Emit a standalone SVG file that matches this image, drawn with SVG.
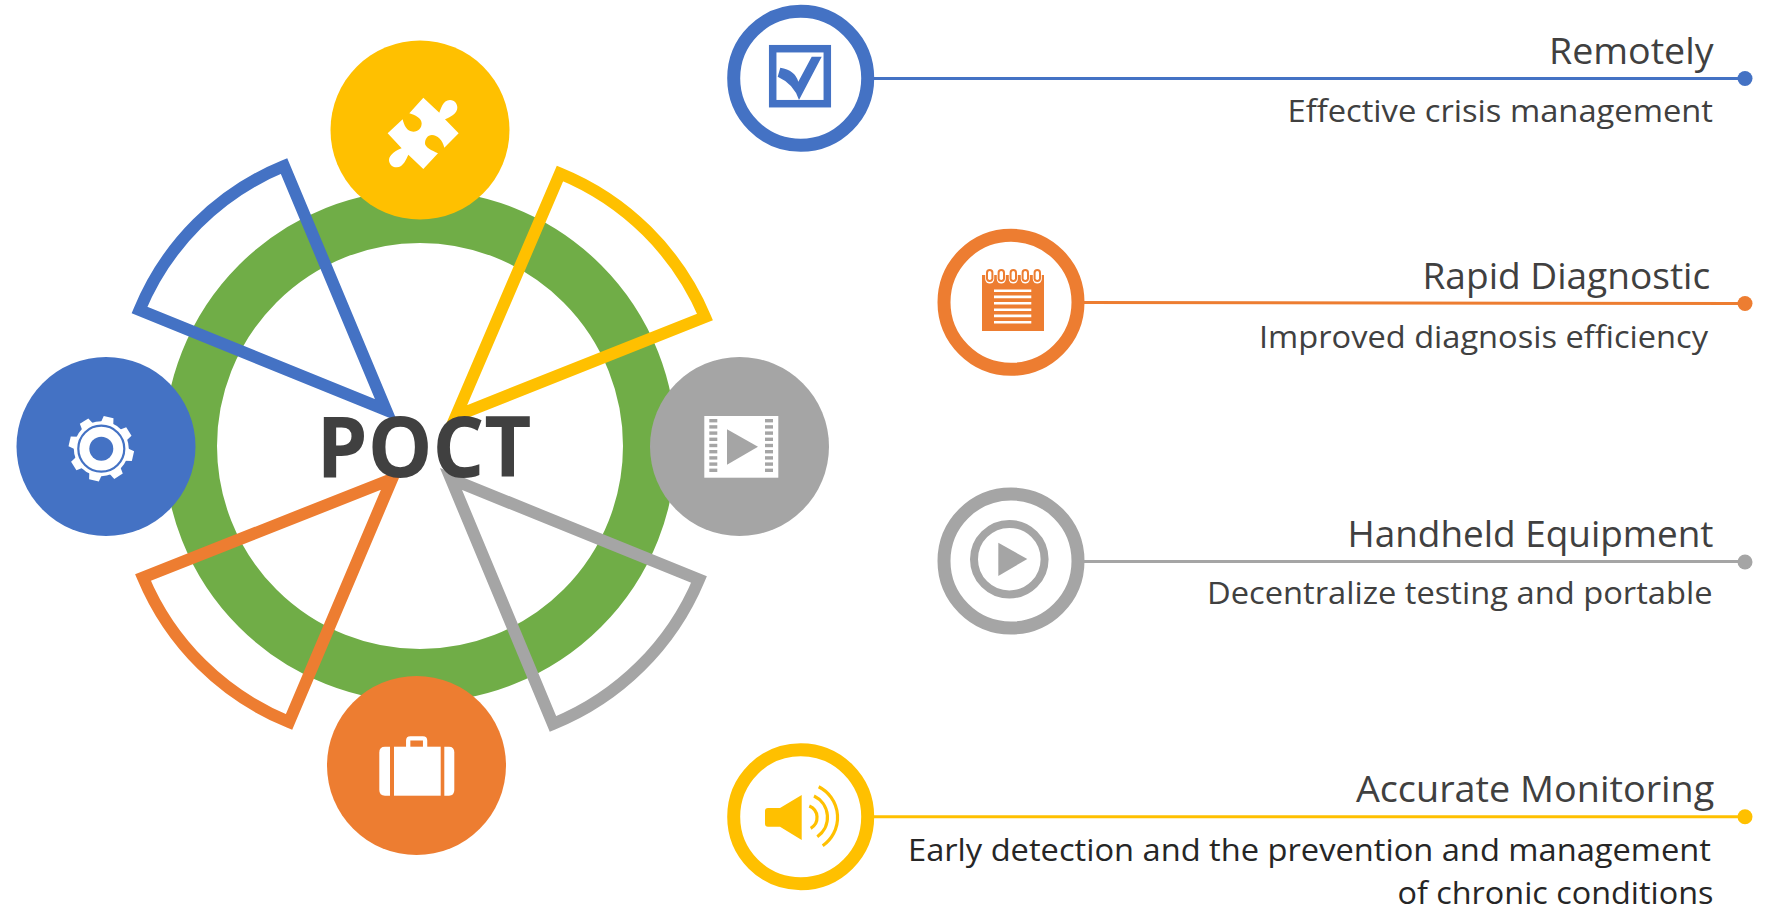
<svg xmlns="http://www.w3.org/2000/svg" xmlns:xlink="http://www.w3.org/1999/xlink" width="1765" height="907" viewBox="0 0 1765 907">
<style>
.t{font-family:"Open Sans","Noto Sans","Liberation Sans",sans-serif;fill:#404040;text-anchor:start}
.h{font-size:36px}
.s{font-size:31px}
.d{fill:#262626}
.wedge{fill:none;stroke-width:12;stroke-miterlimit:10}
.ringi{fill:#fff;stroke-width:13}
.b{fill:#4472c4}.o{fill:#ed7d31}.g{fill:#a5a5a5}.y{fill:#ffc000}
.sb{stroke:#4472c4}.so{stroke:#ed7d31}.sg{stroke:#a5a5a5}.sy{stroke:#ffc000}
.w{fill:#fff}
.ln{stroke-width:3;fill:none}
</style>
<defs>
<polygon id="tooth" points="-6.5,-25 -5,-32.5 5,-32.5 6.5,-25" fill="#fff"/>
<rect id="perf" width="8" height="3.4" fill="#a5a5a5"/>
</defs>
<rect width="1765" height="907" fill="#fff"/>
<g id="ring"><circle cx="420" cy="446" r="229.5" fill="none" stroke="#70ad47" stroke-width="53"/></g>
<g id="sector-blue"><path class="wedge sb" d="M386,410 L284,166 A265,265 0 0 0 139.5,310 Z"/></g>
<g id="sector-gold"><path class="wedge sy" d="M456,416 L705,317 A267,267 0 0 0 560,173.5 Z"/></g>
<g id="sector-grey"><path class="wedge sg" d="M451,479 L553,724 A267,267 0 0 0 699,579.5 Z"/></g>
<g id="sector-orange"><path class="wedge so" d="M392,479 L143,577.5 A267,267 0 0 0 289,722 Z"/></g>

<g id="node-puzzle"><circle class="y" cx="420" cy="130" r="89.5"/>
<path class="w" transform="translate(350 60) scale(.3333)" d="M220,113 L268,158 C272,150 278,120 300,120 C315,120 322,132 322,143 C322,160 300,172 285,178 L326,220 L283,263 C278,240 262,225 246,225 C232,225 225,238 225,250 C225,262 245,272 264,280 L220,327 L175,284 C170,295 160,322 140,322 C125,322 117,310 117,300 C117,285 140,270 155,265 L113,220 L158,178 C162,195 170,215 190,215 C205,215 215,205 215,190 C215,175 195,165 178,160 Z"/></g>
<g id="node-gear"><circle class="b" cx="106" cy="446.5" r="89.5"/>
<g transform="translate(101.3 448.7)">
<use xlink:href="#tooth" transform="rotate(13)"/><use xlink:href="#tooth" transform="rotate(58)"/><use xlink:href="#tooth" transform="rotate(103)"/><use xlink:href="#tooth" transform="rotate(148)"/><use xlink:href="#tooth" transform="rotate(193)"/><use xlink:href="#tooth" transform="rotate(238)"/><use xlink:href="#tooth" transform="rotate(283)"/><use xlink:href="#tooth" transform="rotate(328)"/>
<circle r="27.5" class="w"/><circle r="23" fill="none" class="sb" stroke-width="2.2"/><circle r="12" class="b"/></g></g>
<g id="node-film"><circle class="g" cx="739.5" cy="446.5" r="89.5"/>
<rect class="w" x="704.3" y="416" width="74" height="61.7"/>
<g transform="translate(709.3 419)"><use xlink:href="#perf"/><use xlink:href="#perf" y="6.2"/><use xlink:href="#perf" y="12.4"/><use xlink:href="#perf" y="18.6"/><use xlink:href="#perf" y="24.8"/><use xlink:href="#perf" y="31"/><use xlink:href="#perf" y="37.2"/><use xlink:href="#perf" y="43.4"/><use xlink:href="#perf" y="49.6"/></g>
<g transform="translate(765 419)"><use xlink:href="#perf"/><use xlink:href="#perf" y="6.2"/><use xlink:href="#perf" y="12.4"/><use xlink:href="#perf" y="18.6"/><use xlink:href="#perf" y="24.8"/><use xlink:href="#perf" y="31"/><use xlink:href="#perf" y="37.2"/><use xlink:href="#perf" y="43.4"/><use xlink:href="#perf" y="49.6"/></g>
<polygon class="g" points="727,429.3 758,446.7 727,464.7"/></g>
<g id="node-case"><circle class="o" cx="416.5" cy="765.5" r="89.5"/>
<path class="w" d="M390,746.7 V795.7 H385 Q379.3,795.7 379.3,790 V752.4 Q379.3,746.7 385,746.7 Z"/>
<rect class="w" x="394" y="746.7" width="46.7" height="49"/>
<path class="w" d="M444.3,746.7 H449 Q454.3,746.7 454.3,752.4 V790 Q454.3,795.7 449,795.7 H444.3 Z"/>
<path d="M408.2,747 V740.5 Q408.2,738.3 410.4,738.3 H422.9 Q425.1,738.3 425.1,740.5 V747" fill="none" stroke="#fff" stroke-width="4.3"/></g>

<g id="connectors">
<path class="ln sb" d="M874,78.5 H1738"/><circle class="b" cx="1745" cy="78.5" r="7.5"/>
<path class="ln so" d="M1084,302.5 L1738,303.5"/><circle class="o" cx="1745" cy="303.5" r="7.5"/>
<path class="ln sg" d="M1084,561.5 H1738"/><circle class="g" cx="1745" cy="562" r="7.5"/>
<path class="ln sy" d="M874,816.7 H1738"/><circle class="y" cx="1745" cy="816.7" r="7.5"/>
</g>

<g id="node-remotely"><circle class="ringi sb" cx="800.7" cy="78.3" r="67"/>
<rect x="772.7" y="48.7" width="54.6" height="55" fill="none" class="sb" stroke-width="7.5"/>
<path class="b" d="M777.7,76.7 L780.3,67.7 Q795,70 798.3,81.7 L811.7,56.7 H821.7 L799,100 Q794,84 777.7,76.7 Z"/>
<text class="t h" x="1549" y="64.3" textLength="164.5" lengthAdjust="spacingAndGlyphs">Remotely</text>
<text class="t s" x="1287.5" y="121.6" textLength="425.5" lengthAdjust="spacingAndGlyphs">Effective crisis management</text></g>

<g id="node-rapid"><circle class="ringi so" cx="1011" cy="302.3" r="67"/>
<rect class="o" x="982" y="275" width="62" height="56"/>
<g class="caps">
<rect class="w" x="985.2" y="268" width="9" height="15.5" rx="4.5"/><rect class="w" x="996.8" y="268" width="9" height="15.5" rx="4.5"/><rect class="w" x="1008.8" y="268" width="9" height="15.5" rx="4.5"/><rect class="w" x="1020.8" y="268" width="9" height="15.5" rx="4.5"/><rect class="w" x="1032.8" y="268" width="9" height="15.5" rx="4.5"/>
<rect class="o" x="986" y="269" width="7.4" height="13" rx="3.7"/><rect class="o" x="997.6" y="269" width="7.4" height="13" rx="3.7"/><rect class="o" x="1009.6" y="269" width="7.4" height="13" rx="3.7"/><rect class="o" x="1021.6" y="269" width="7.4" height="13" rx="3.7"/><rect class="o" x="1033.6" y="269" width="7.4" height="13" rx="3.7"/>
<rect class="w" x="988" y="271" width="3.4" height="9" rx="1.7"/><rect class="w" x="999.6" y="271" width="3.4" height="9" rx="1.7"/><rect class="w" x="1011.6" y="271" width="3.4" height="9" rx="1.7"/><rect class="w" x="1023.6" y="271" width="3.4" height="9" rx="1.7"/><rect class="w" x="1035.6" y="271" width="3.4" height="9" rx="1.7"/>
</g>
<path d="M994,290.7 H1031.3 M994,296.9 H1031.3 M994,303.3 H1031.3 M994,309.7 H1031.3 M994,315.9 H1031.3 M994,322.3 H1031.3" stroke="#fff" stroke-width="2.6" fill="none"/>
<text class="t h" x="1422.5" y="288.5" textLength="287.7" lengthAdjust="spacingAndGlyphs">Rapid Diagnostic</text>
<text class="t s" x="1259" y="347.8" textLength="449" lengthAdjust="spacingAndGlyphs">Improved diagnosis efficiency</text></g>

<g id="node-handheld"><circle class="ringi sg" cx="1011" cy="561" r="67"/>
<circle cx="1009.3" cy="559.2" r="35.3" fill="none" class="sg" stroke-width="8"/>
<polygon class="g" points="998.3,542.7 1027.3,559 998.3,576"/>
<text class="t h" x="1347.5" y="546.7" textLength="366" lengthAdjust="spacingAndGlyphs">Handheld Equipment</text>
<text class="t s" x="1207" y="603.5" textLength="505.5" lengthAdjust="spacingAndGlyphs">Decentralize testing and portable</text></g>

<g id="node-accurate"><circle class="ringi sy" cx="800.7" cy="816.7" r="67"/>
<path class="y" d="M768,808 H780 L801.7,795 V840 L780,826.7 H768 Q765,826.7 765,823.7 V811 Q765,808 768,808 Z"/>
<path class="sy" fill="none" stroke-width="3.2" d="M809.3,806 A12.4,12.4 0 0 1 810.7,828.3 M814,796 A23.6,23.6 0 0 1 817.3,836.7 M818.7,786.7 A34.4,34.4 0 0 1 822.7,845.7"/>
<text class="t h" x="1355.9" y="802" textLength="358.4" lengthAdjust="spacingAndGlyphs">Accurate Monitoring</text>
<text class="t s d" x="908" y="860.5" textLength="803" lengthAdjust="spacingAndGlyphs">Early detection and the prevention and management</text>
<text class="t s d" x="1397.5" y="904" textLength="316" lengthAdjust="spacingAndGlyphs">of chronic conditions</text></g>

<g id="title"><text class="t" x="316.5" y="477" font-size="85" font-weight="700" textLength="215" lengthAdjust="spacingAndGlyphs">POCT</text></g>
</svg>
